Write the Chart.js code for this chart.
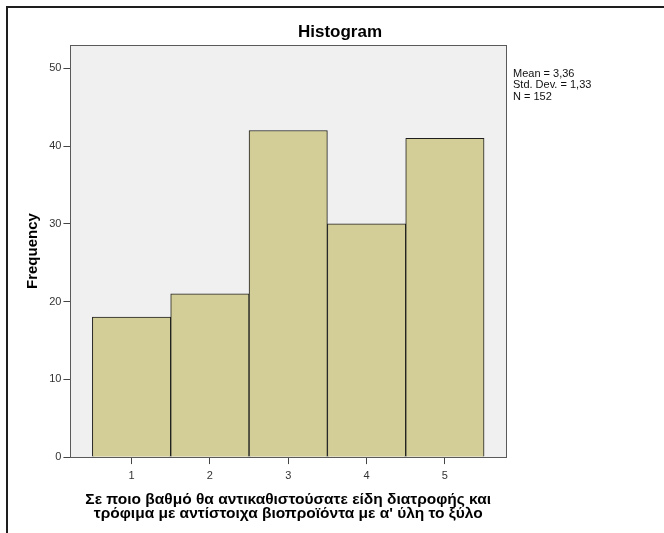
<!DOCTYPE html>
<html>
<head>
<meta charset="utf-8">
<script src="https://cdn.jsdelivr.net/npm/chart.js@4/dist/chart.umd.min.js"></script>
<style>
  html, body { margin: 0; padding: 0; background: #fff; }
  #wrap { position: relative; width: 664px; height: 533px; overflow: hidden; }
  #frame { position: absolute; left: 6px; top: 6px; width: 700px; height: 600px;
           border-top: 2px solid #1e1e1e; border-left: 2px solid #1e1e1e; box-sizing: border-box; }
  canvas { position: absolute; left: 0; top: 0; }
</style>
</head>
<body>
<div id="wrap">
  <div id="frame"></div>
  <canvas id="c" width="664" height="533"></canvas>
</div>
<script>
// ---- data ----
const categories = [1, 2, 3, 4, 5];
const frequencies = [18, 21, 42, 30, 41];
const yTicks = [0, 10, 20, 30, 40, 50];
const statsLines = ["Mean = 3,36", "Std. Dev. = 1,33", "N = 152"];
const chartTitle = "Histogram";
const yTitle = "Frequency";
const xTitle = ["Σε ποιο βαθμό θα αντικαθιστούσατε είδη διατροφής και",
                "τρόφιμα με αντίστοιχα βιοπροϊόντα με α' ύλη το ξύλο"];

const FONT = "'Liberation Sans', Arial, sans-serif";

const areaPlugin = {
  id: 'areaPlugin',
  beforeDatasetsDraw(chart) {
    const { ctx, chartArea: a } = chart;
    ctx.save();
    ctx.fillStyle = '#f0f0f0';
    ctx.fillRect(a.left, a.top, a.right - a.left, a.bottom - a.top);
    ctx.restore();
  },
  afterDraw(chart) {
    const { ctx, chartArea: a } = chart;
    ctx.save();
    ctx.strokeStyle = '#5a5a5a';
    ctx.lineWidth = 1;
    ctx.strokeRect(Math.round(a.left) + 0.5, Math.round(a.top) + 0.5,
                   Math.round(a.right - a.left), Math.round(a.bottom - a.top));
    // stats box
    ctx.fillStyle = '#111';
    ctx.font = '11px ' + FONT;
    ctx.textBaseline = 'middle';
    ctx.textAlign = 'left';
    statsLines.forEach((s, i) => {
      ctx.fillText(s, a.right + 7, a.top + 29 + i * 11.3);
    });
    ctx.restore();
  }
};

new Chart(document.getElementById('c'), {
  type: 'bar',
  data: {
    datasets: [{
      data: categories.map((c, i) => ({ x: c, y: frequencies[i] })),
      backgroundColor: '#d3ce97',
      borderColor: '#1e1e1e',
      borderWidth: 1,
      barPercentage: 1,
      categoryPercentage: 1,
      yAxisID: 'y'
    }]
  },
  options: {
    responsive: false,
    animation: false,
    layout: { padding: { left: 16, right: 0, top: 0, bottom: 0 } },
    plugins: {
      legend: { display: false },
      tooltip: { enabled: false },
      title: {
        display: true,
        text: chartTitle,
        color: '#000',
        font: { family: FONT, size: 17, weight: 'bold' },
        padding: { top: 21.8, bottom: 2.8 }
      }
    },
    scales: {
      x: {
        type: 'linear',
        min: 0.22,
        max: 5.78,
        offset: false,
        afterBuildTicks: (axis) => { axis.ticks = categories.map(v => ({ value: v })); },
        grid: { display: true, offset: false, drawOnChartArea: false, drawTicks: true, tickLength: 7, color: '#444' },
        border: { display: true, color: '#5a5a5a' },
        ticks: { color: '#333', padding: 5, maxRotation: 0, font: { family: FONT, size: 11 } },
        title: {
          display: true,
          text: xTitle,
          color: '#000',
          font: { family: FONT, size: 15.5, weight: 'bold', lineHeight: 0.87 },
          padding: { top: 6, bottom: 12.75 }
        }
      },
      y: {
        min: 0,
        max: 53,
        afterBuildTicks: (axis) => { axis.ticks = yTicks.map(v => ({ value: v })); },
        grid: { display: true, drawOnChartArea: false, drawTicks: true, tickLength: 7, color: '#444' },
        border: { display: true, color: '#5a5a5a' },
        ticks: { color: '#333', padding: 2, font: { family: FONT, size: 11 } },
        title: {
          display: true,
          text: yTitle,
          color: '#000',
          font: { family: FONT, size: 15, weight: 'bold', lineHeight: 1.2 },
          padding: { top: 7.5, bottom: 5.7 }
        }
      },
      side: {
        position: 'right',
        display: true,
        grid: { display: false },
        border: { display: false },
        ticks: { display: false },
        afterFit: (scale) => { scale.width = 158; }
      }
    }
  },
  plugins: [areaPlugin]
});
</script>
</body>
</html>
